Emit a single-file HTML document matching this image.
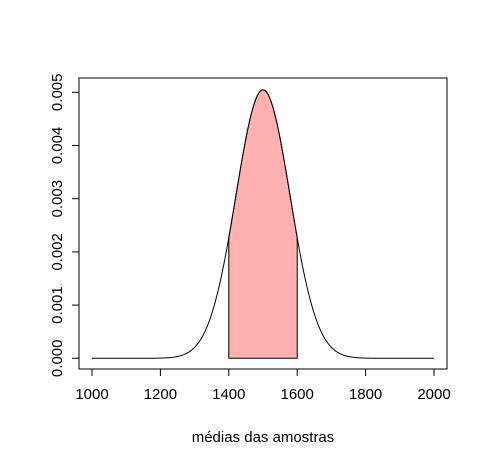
<!DOCTYPE html>
<html><head><meta charset="utf-8"><style>
body{margin:0;background:#fff}
svg text{font-family:"Liberation Sans",sans-serif;font-size:15px;fill:#000}
</style></head><body>
<svg width="489" height="467" id="c">
<rect x="79" y="78" width="368" height="291" fill="none" stroke="#000"/>
<g id="shade"></g><g id="curve"></g><g id="xax"></g><g id="yax"></g>
<text x="263" y="442" text-anchor="middle">médias das amostras</text>
</svg>
<script>
const xTicks=[1000,1200,1400,1600,1800,2000];
const yTicks=[0,0.001,0.002,0.003,0.004,0.005];
const yLabels=["0.000","0.001","0.002","0.003","0.004","0.005"];
const distMean=[1500];
const distSd=[79.06];
const xRange=[1000,2000];
const shadeRange=[1400,1600];
const NS="http://www.w3.org/2000/svg";
const X=v=>92+(v-1000)*342/1000;
const Y=v=>358.3-v*266/0.005;
const dens=x=>Math.exp(-0.5*((x-distMean[0])/distSd[0])**2)/(distSd[0]*Math.sqrt(2*Math.PI));
function mk(t,a,p){const e=document.createElementNS(NS,t);for(const k in a)e.setAttribute(k,a[k]);p.appendChild(e);return e;}
let d="";for(let x=xRange[0];x<=xRange[1];x+=2)d+=(d?"L":"M")+X(x).toFixed(2)+","+Y(dens(x)).toFixed(2);
const cv=mk("path",{d:d,fill:"none",stroke:"#000"},document.getElementById("curve"));


let s="M"+X(shadeRange[0])+","+Y(0);for(let x=shadeRange[0];x<=shadeRange[1];x+=2)s+="L"+X(x).toFixed(2)+","+Y(dens(x)).toFixed(2);s+="L"+X(shadeRange[1])+","+Y(0)+"Z";
const sh=mk("path",{d:s,fill:"#ffb1b1",stroke:"#000"},document.getElementById("shade"));


const xa=document.getElementById("xax");
mk("line",{x1:X(xTicks[0]),x2:X(xTicks[xTicks.length-1]),y1:369,y2:369,stroke:"#000"},xa);
xTicks.forEach(t=>{mk("line",{x1:X(t),x2:X(t),y1:369,y2:376,stroke:"#000"},xa);
const tx=mk("text",{x:X(t),y:399,"text-anchor":"middle"},xa);tx.textContent=t;

});
const ya=document.getElementById("yax");
mk("line",{x1:79,x2:79,y1:Y(yTicks[0]),y2:Y(yTicks[yTicks.length-1]),stroke:"#000"},ya);
yTicks.forEach((t,i)=>{mk("line",{x1:72,x2:79,y1:Y(t),y2:Y(t),stroke:"#000"},ya);
const tx=mk("text",{x:0,y:0,"text-anchor":"middle",transform:`translate(62,${Y(t)}) rotate(-90)`},ya);tx.textContent=yLabels[i];

});
</script>
</body></html>
